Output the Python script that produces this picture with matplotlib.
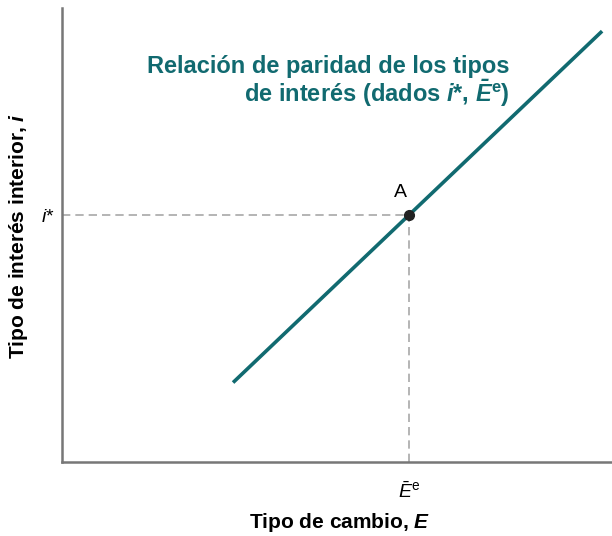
import matplotlib.pyplot as plt

plt.rcParams['font.family'] = ['Liberation Sans', 'DejaVu Sans']
plt.rcParams['mathtext.fontset'] = 'custom'
plt.rcParams['mathtext.rm'] = 'Liberation Sans'
plt.rcParams['mathtext.it'] = 'Liberation Sans:italic'
plt.rcParams['mathtext.bf'] = 'Liberation Sans:bold'
plt.rcParams['mathtext.bfit'] = 'Liberation Sans:italic:bold'

# curva de paridad (dos extremos) y punto de equilibrio A
line_x = [3.11, 9.82]
line_y = [1.75, 9.49]
point_a = (6.31, 5.44)

teal = '#116a70'
grey = '#a8a8a8'

fig = plt.figure(figsize=(6.12, 5.36), dpi=100)
ax = fig.add_axes([62 / 612, 74 / 536, 550 / 612, 454 / 536])
ax.set_xlim(0, 10)
ax.set_ylim(0, 10)

ax.plot(line_x, line_y, color=teal, lw=2.6, solid_capstyle='butt', zorder=3)

# líneas discontinuas hacia los ejes
ax.plot([0, point_a[0]], [point_a[1], point_a[1]], color=grey, lw=1.2, ls=(0, (5, 3)), zorder=2)
ax.plot([point_a[0], point_a[0]], [0, point_a[1]], color=grey, lw=1.2, ls=(0, (5, 3)), zorder=2)
ax.plot(*point_a, 'o', color='#222222', ms=7, zorder=4)
ax.text(point_a[0] - 0.15, point_a[1] + 0.3, 'A', fontsize=14, ha='center', va='bottom')

for s in ['top', 'right']:
    ax.spines[s].set_visible(False)
for s in ['left', 'bottom']:
    ax.spines[s].set_color('#777777')
    ax.spines[s].set_linewidth(1.8)

ax.set_xticks([point_a[0]])
ax.set_xticklabels([r'$\bar{E}^{\rm e}$'], fontsize=14)
ax.set_yticks([point_a[1]])
ax.set_yticklabels([r'$i$*'], fontsize=14)
ax.tick_params(axis='x', length=0, pad=14)
ax.tick_params(axis='y', length=0, pad=5)

fig.text(340 / 612, 1 - 522 / 536, r'Tipo de cambio, $\mathbfit{E}$', fontsize=15,
         fontweight='bold', ha='center', va='center')
fig.text(19 / 612, 1 - 236 / 536, r'Tipo de interés interior, $\mathbfit{i}$', fontsize=15,
         fontweight='bold', ha='center', va='center', rotation=90)

ax.text(8.14, 8.72, 'Relación de paridad de los tipos', color=teal, fontsize=17,
        fontweight='bold', ha='right', va='center')
ax.text(8.14, 8.12, r'de interés (dados $\mathbfit{i}$*, $\mathbfit{\bar{E}}^{\mathbf{e}}$)',
        color=teal, fontsize=17, fontweight='bold', ha='right', va='center')

fig.savefig('out.png', dpi=100)
